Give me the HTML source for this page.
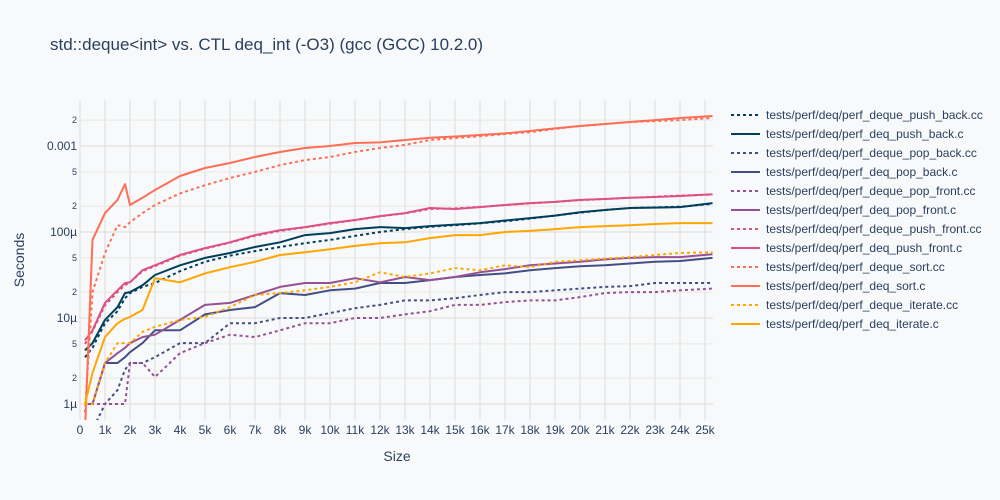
<!DOCTYPE html>
<html><head><meta charset="utf-8"><style>
body{margin:0;background:#f8f9fa;}
svg{display:block;font-family:"Liberation Sans",sans-serif;}
</style></head><body>
<svg id="chart" width="1000" height="500">
<rect width="1000" height="500" fill="#f8f9fa"/>
<text x="50" y="50" font-size="17" fill="#2a3f5f">std::deque&lt;int&gt; vs. CTL deq_int (-O3) (gcc (GCC) 10.2.0)</text>
<g id="grid"></g>
<g id="axes"></g>
<defs><clipPath id="clip"><rect x="80" y="100" width="633" height="320"/></clipPath></defs>
<g id="series" clip-path="url(#clip)"></g>
<g id="legend"></g>
<text x="397" y="461" font-size="14" fill="#2a3f5f" text-anchor="middle">Size</text>
<text x="24" y="260" font-size="14" fill="#2a3f5f" text-anchor="middle" transform="rotate(-90 24 260)">Seconds</text>
</svg>
<script>
const sizes = [0.2,0.5,1,1.5,1.8,2,2.5,3,4,5,6,7,8,9,10,11,12,13,14,15,16,17,18,19,20,21,22,23,24,25.3];
const seriesNames = ["tests/perf/deq/perf_deque_push_back.cc","tests/perf/deq/perf_deq_push_back.c","tests/perf/deq/perf_deque_pop_back.cc","tests/perf/deq/perf_deq_pop_back.c","tests/perf/deq/perf_deque_pop_front.cc","tests/perf/deq/perf_deq_pop_front.c","tests/perf/deq/perf_deque_push_front.cc","tests/perf/deq/perf_deq_push_front.c","tests/perf/deq/perf_deque_sort.cc","tests/perf/deq/perf_deq_sort.c","tests/perf/deq/perf_deque_iterate.cc","tests/perf/deq/perf_deq_iterate.c"];
// values in microseconds
const pushBackCC = [3.5,4.5,8.7,12,17,19.5,23,25.5,35,45,53,60,67,74,81,90,100,108,115,120,126,133,143,155,168,180,190,193,197,212];
const pushBackC = [4.2,5.1,9.5,13.4,19.5,20,24,31.6,41,50,57,67,76,92,97,108,114,111,117,122,127,136,145,155,170,180,190,192,195,217];
const popBackCC = [0.3,0.5,1,1.45,2.5,3,3,3.5,5.1,5.1,8.7,8.7,10,10,11.4,13,14.2,16,16,17,18.5,20,20,21,22,23,23.5,25.5,25.5,25.5];
const popBackC = [1,1,3,3,3.5,4,5.1,7.2,7.2,11,12.4,13.4,19.5,18.5,21,22,25.5,25.5,27.6,30,31.6,33,36,38,40,41,43,45,46,50];
const popFrontCC = [1,1,1,1,1,3,3,2.06,3.9,5.1,6.4,6,7.2,8.7,8.7,10,10,11,12,14.2,14.2,15.3,16,16,17.5,19.5,20,20,21,22];
const popFrontC = [1,1,3,3.9,4.5,5.1,6,6.4,9.5,14.2,15,18.5,23,25.5,25.5,29,26,30,27.6,30,34,37,41,43,45,48,50,51,51,55];
const pushFrontCC = [5,7,14,20,24,26,35,40,53,64,75,90,103,113,125,137,152,165,185,188,196,206,215,224,234,242,250,257,265,272];
const pushFrontC = [5.5,7.2,15,21,25.5,26,36,41,54,65,76,92,105,114,127,138,153,166,190,185,195,206,217,224,236,242,250,255,262,275];
const sortCC = [0.8,20,57,120,114,130,166,206,281,350,425,500,600,685,745,851,948,1030,1175,1240,1300,1380,1450,1580,1709,1800,1900,1950,2000,2117];
const sortC = [0.5,81,166,236,361,206,250,308,448,555,634,745,851,948,1000,1084,1100,1175,1250,1290,1343,1400,1494,1600,1709,1800,1900,2000,2117,2233];
const iterateCC = [1,1,3,5.1,5.1,5.1,6.9,7.9,9.5,10.3,13.4,18.5,19.5,21,23,26,34,30,33,38,36,41,39,45,47,49,51,54,57,58];
const iterateC = [1,2.3,6,8.7,9.8,10.3,12.4,29,26,33,39,45,54,58,63,69,74,76,85,92,92,100,103,108,114,117,120,124,127,127];
const xTicks = [0,1,2,3,4,5,6,7,8,9,10,11,12,13,14,15,16,17,18,19,20,21,22,23,24,25];
const xTickLabels = ["0","1k","2k","3k","4k","5k","6k","7k","8k","9k","10k","11k","12k","13k","14k","15k","16k","17k","18k","19k","20k","21k","22k","23k","24k","25k"];
const yMajor = [1,10,100,1000];
const yMajorLabels = ["1µ","10µ","100µ","0.001"];
const yMinor = [2,5,20,50,200,500,2000];

const allSeries = [pushBackCC,pushBackC,popBackCC,popBackC,popFrontCC,popFrontC,pushFrontCC,pushFrontC,sortCC,sortC,iterateCC,iterateC];
const colors = ["#003f5c","#444e86","#955196","#dd5182","#ff6e54","#ffa600"];
const NS="http://www.w3.org/2000/svg";
const X0=80, X1=713, Y0=100, Y1=420;
function xs(k){return 80 + k*25;}
function ys(us){return 404 - 86*Math.log10(us);}
function mk(tag,attrs,parent){const e=document.createElementNS(NS,tag);for(const k in attrs)e.setAttribute(k,attrs[k]);parent.appendChild(e);return e;}
const grid=document.getElementById('grid'), axes=document.getElementById('axes'), sg=document.getElementById('series'), lg=document.getElementById('legend');
xTicks.forEach((t,i)=>{
  const l=mk('line',{x1:xs(t),x2:xs(t),y1:Y0,y2:Y1,stroke:'#dcdcdc','stroke-width':1},grid);
  
  
  const tx=mk('text',{x:xs(t),y:434,'font-size':12,fill:'#2a3f5f','text-anchor':'middle'},axes);
  tx.textContent=xTickLabels[i];
  
  
});
yMajor.forEach((v,i)=>{
  const l=mk('line',{x1:X0,x2:X1,y1:ys(v),y2:ys(v),stroke:'#dcdcdc','stroke-width':1},grid);
  
  
  const tx=mk('text',{x:77,y:ys(v)+4,'font-size':12,fill:'#2a3f5f','text-anchor':'end'},axes);
  tx.textContent=yMajorLabels[i];
  
  
});
yMinor.forEach(v=>{
  const l=mk('line',{x1:X0,x2:X1,y1:ys(v),y2:ys(v),stroke:'#e6e6e6','stroke-width':1},grid);
  
  
  const tx=mk('text',{x:77,y:ys(v)+3,'font-size':9,fill:'#2a3f5f','text-anchor':'end'},axes);
  tx.textContent=String(v).charAt(0);
  
  
});
allSeries.forEach((vals,i)=>{
  const c=colors[Math.floor(i/2)], dotted=(i%2===0);
  const pts=vals.map((v,j)=>xs(sizes[j]).toFixed(1)+','+ys(v).toFixed(1)).join(' ');
  const p=mk('polyline',{points:pts,fill:'none',stroke:c,'stroke-width':2,'stroke-linejoin':'round'},sg);
  if(dotted)p.setAttribute('stroke-dasharray','3,3');
  
  
  const y=115+19*i;
  const ll=mk('line',{x1:731,x2:760,y1:y,y2:y,stroke:c,'stroke-width':2},lg);
  if(dotted)ll.setAttribute('stroke-dasharray','3,3');
  
  
  const t=mk('text',{x:766,y:y+4,'font-size':12,fill:'#2a3f5f'},lg);
  t.textContent=seriesNames[i];
  
  
});
</script>
</body></html>
